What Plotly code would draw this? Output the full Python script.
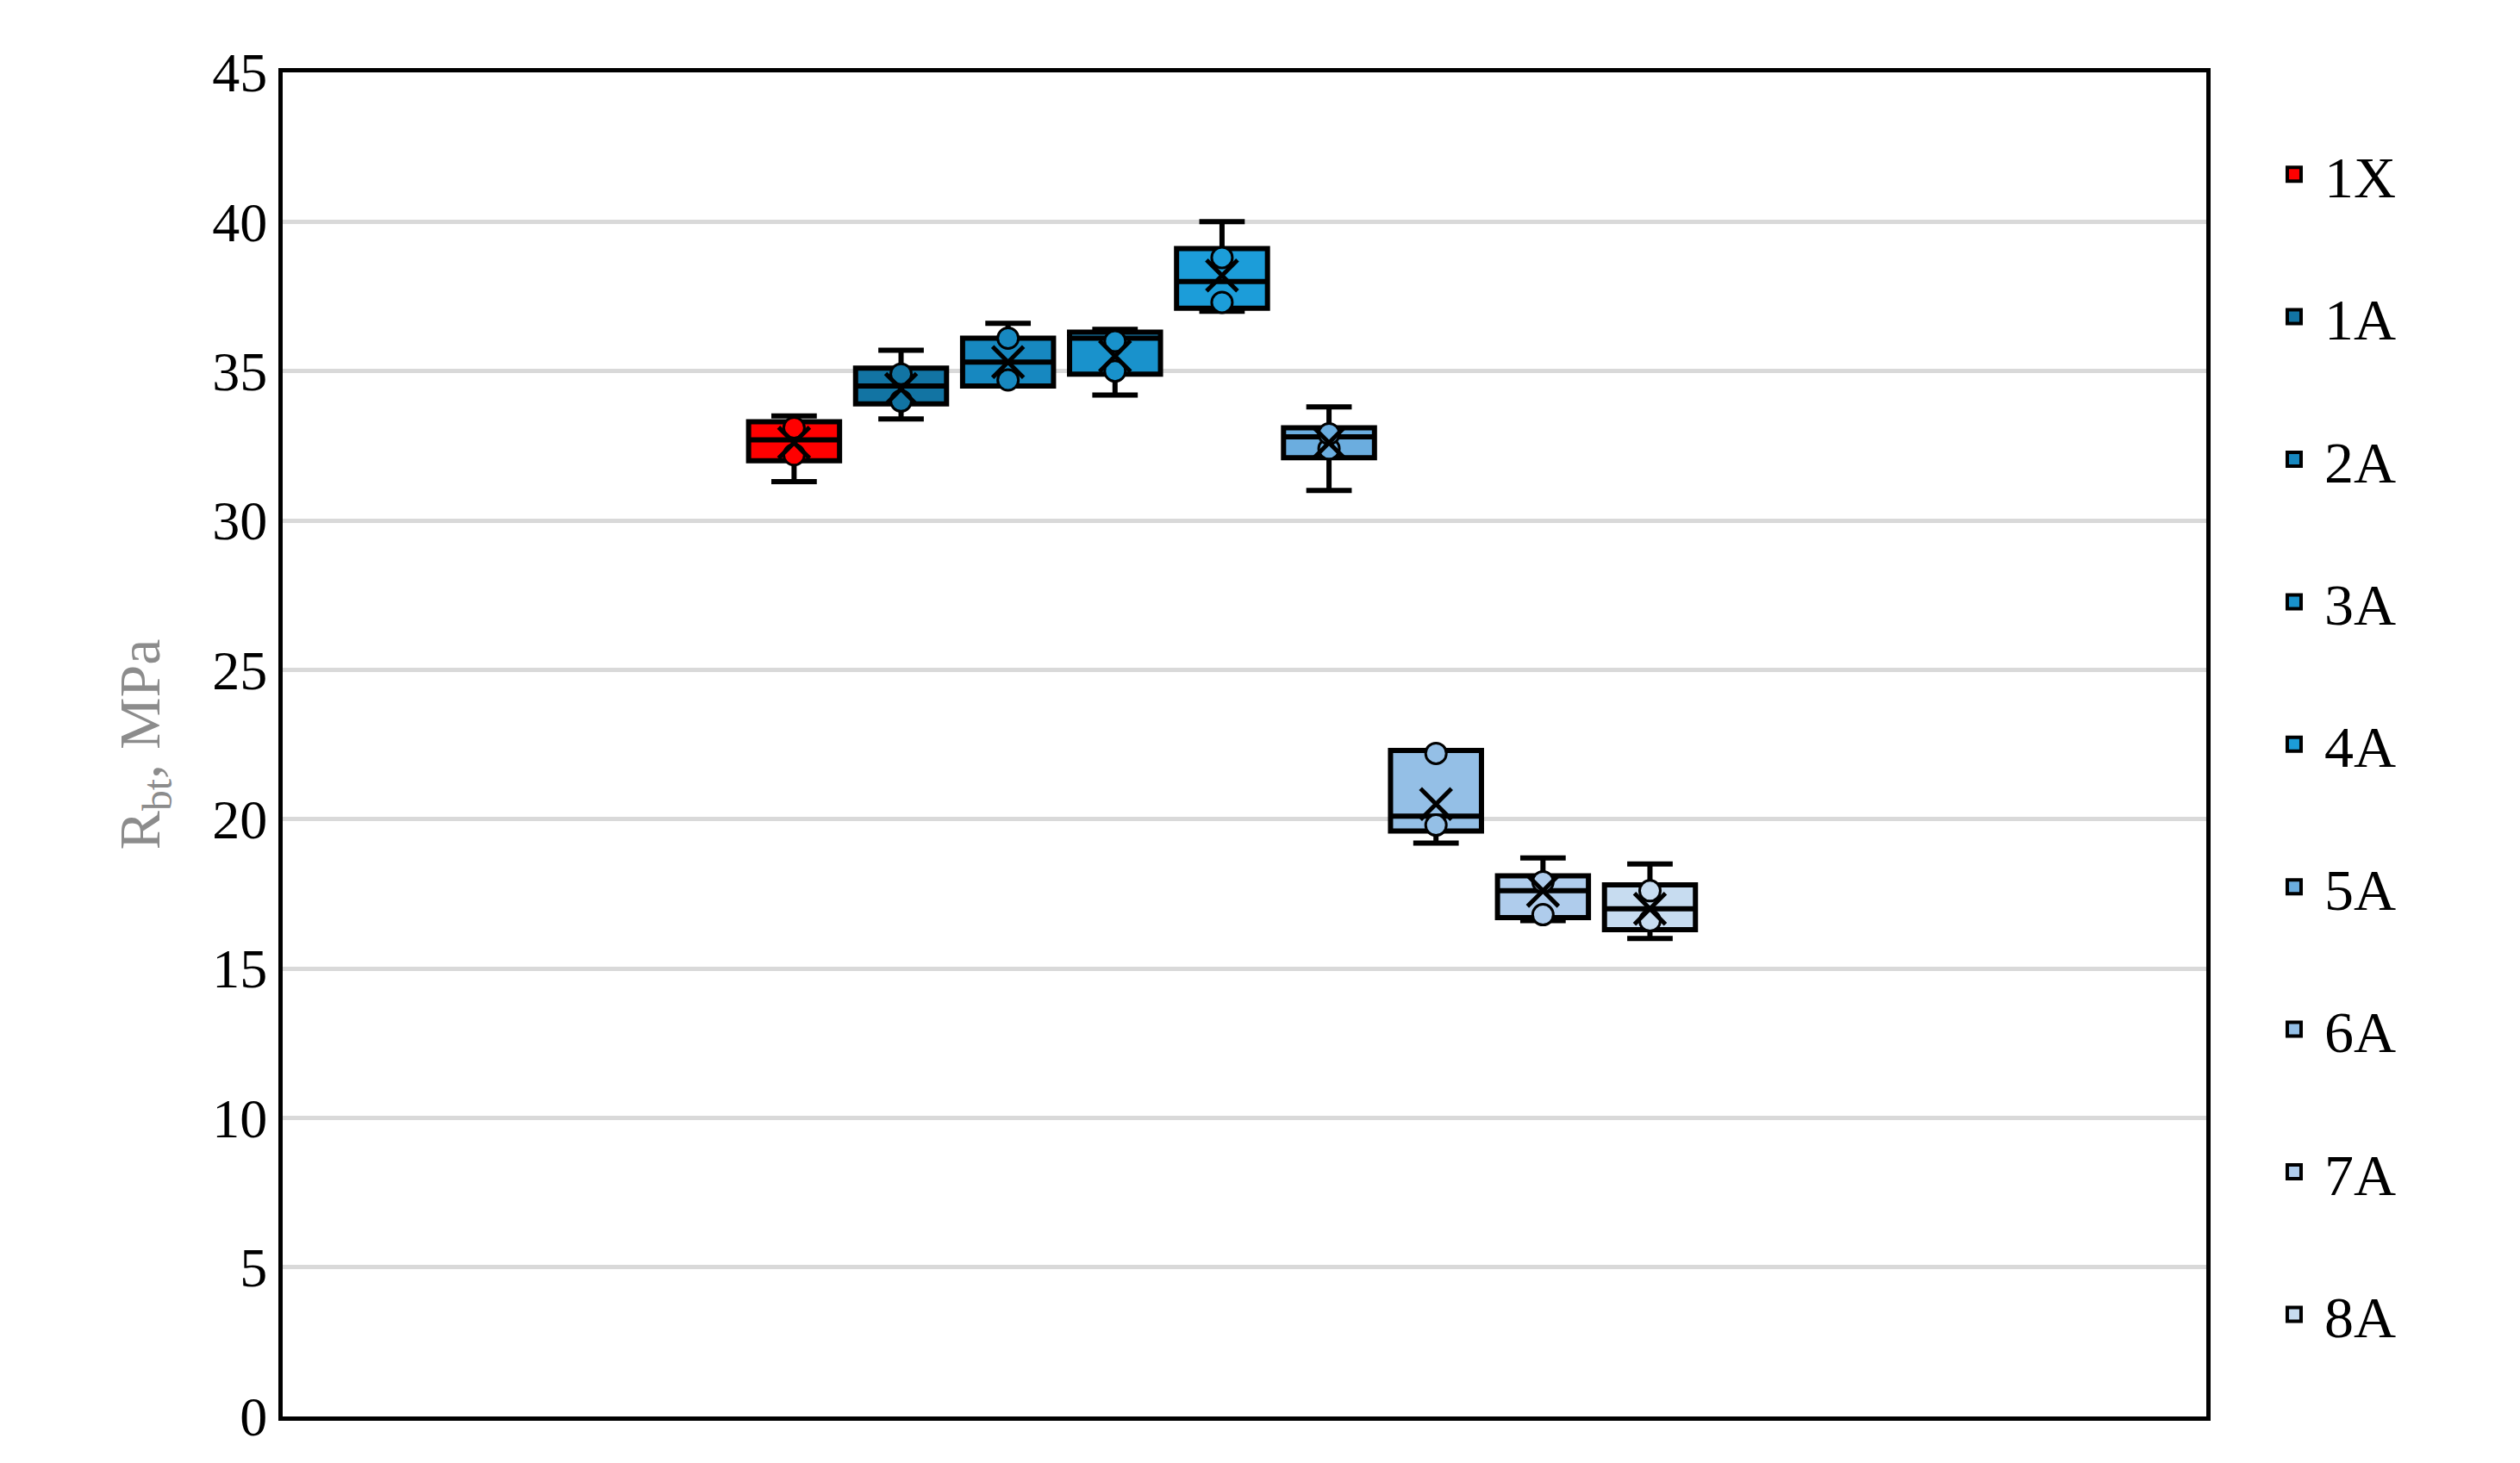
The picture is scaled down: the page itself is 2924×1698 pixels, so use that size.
import plotly.graph_objects as go

names = ["1X", "1A", "2A", "3A", "4A", "5A", "6A", "7A", "8A"]
colors = ["#FF0000", "#1274A3", "#1788C0", "#1992CC", "#1C9DD9", "#6BADDF", "#94BFE6", "#AFCCEC", "#C7DCF0"]
q1 = [32.0, 33.9, 34.5, 34.9, 37.1, 32.1, 19.6, 16.7, 16.3]
median = [32.7, 34.5, 35.3, 36.1, 38.0, 32.8, 20.1, 17.6, 17.0]
q3 = [33.3, 35.1, 36.1, 36.3, 39.1, 33.1, 22.3, 18.1, 17.8]
lower = [31.3, 33.4, 34.5, 34.2, 37.0, 31.0, 19.2, 16.6, 16.0]
upper = [33.5, 35.7, 36.6, 36.4, 40.0, 33.8, 22.3, 18.7, 18.5]
means = [32.6, 34.4, 35.3, 35.5, 38.2, 32.6, 20.5, 17.6, 17.0]
points = [[32.2, 33.1], [34.0, 34.9], [34.7, 36.1], [35.0, 36.0], [37.3, 38.8],
          [32.4, 32.9], [22.2, 19.8], [16.8, 17.9], [17.6, 16.6]]

FONT = "Liberation Serif"
fig = go.Figure()
for i, n in enumerate(names):
    fig.add_trace(go.Box(
        x=[i], q1=[q1[i]], median=[median[i]], q3=[q3[i]],
        lowerfence=[lower[i]], upperfence=[upper[i]], name=n, showlegend=False,
        fillcolor=colors[i], line=dict(color="black", width=6),
        width=0.85, whiskerwidth=0.5, boxpoints=False))
for i, n in enumerate(names):
    fig.add_trace(go.Scatter(
        x=[i] * len(points[i]), y=points[i], mode="markers", showlegend=False,
        marker=dict(symbol="circle", size=24, color=colors[i], line=dict(color="black", width=3))))
    fig.add_trace(go.Scatter(
        x=[i], y=[means[i]], mode="markers", showlegend=False,
        marker=dict(symbol="x-thin", size=36, line=dict(color="black", width=5))))
for i, n in enumerate(names):
    fig.add_trace(go.Scatter(
        x=[None], y=[None], mode="markers", name=n, legendgroup=n,
        marker=dict(symbol="square", size=60, color=colors[i], line=dict(color="black", width=4))))

fig.update_layout(
    width=2924, height=1698, plot_bgcolor="white", paper_bgcolor="white",
    margin=dict(l=320, r=372, t=76, b=62),
    font=dict(family=FONT, size=64, color="black"),
    showlegend=True,
    legend=dict(x=1.03, y=0.5, yanchor="middle", font=dict(size=68),
                tracegroupgap=74, itemwidth=60),
    xaxis=dict(range=[-4.78, 13.2], showticklabels=False, showgrid=False,
               zeroline=False, showline=True, mirror=True, linecolor="black", linewidth=5),
    yaxis=dict(range=[0, 45], dtick=5, showgrid=True, gridcolor="#D9D9D9", gridwidth=5,
               zeroline=False, showline=True, mirror=True, linecolor="black", linewidth=5,
               ticks="", ticklen=0, tickfont=dict(size=64),
               title=dict(text="R<sub>bt</sub>, MPa", font=dict(size=68, color="#8C8C8C"), standoff=40)),
)
fig.write_html("out.html")
